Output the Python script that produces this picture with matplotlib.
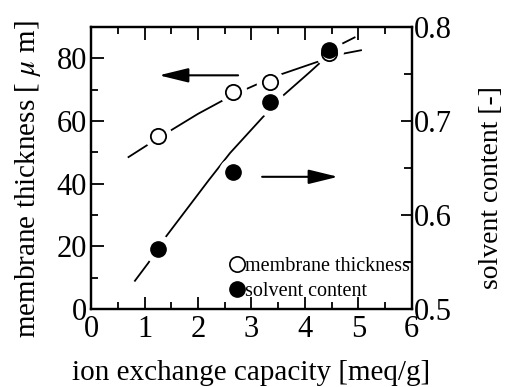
import matplotlib
matplotlib.use('Agg')
import matplotlib.pyplot as plt
from matplotlib.lines import Line2D
from matplotlib.ticker import MultipleLocator

plt.rcParams['font.family'] = ['Liberation Serif', 'DejaVu Serif']
plt.rcParams['mathtext.fontset'] = 'stix'

# measured points
iec = [1.25, 2.65, 3.35, 4.45]
thickness = [55.3, 69.3, 72.6, 81.6]
solvent = [0.564, 0.646, 0.720, 0.776]

# dashed guide curves
thick_curve_x = [0.7, 1.25, 2.0, 2.65, 3.35, 3.55, 4.2, 4.65, 5.05]
thick_curve_y = [48.5, 54.5, 62.3, 68.3, 73.6, 74.9, 78.7, 81.3, 82.6]
solv_curve_x = [0.82, 1.07, 1.4, 2.2, 2.6, 3.21, 3.57, 4.09, 4.65, 4.93]
solv_curve_y = [0.530, 0.549, 0.577, 0.637, 0.666, 0.704, 0.726, 0.752, 0.781, 0.789]

# arrows (x from, x to, y on left axis)
arrow_left = (2.75, 1.27, 74.6)
arrow_right = (3.2, 4.62, 42.2)

fig = plt.figure(figsize=(5.09, 3.87), dpi=100)
ax = fig.add_axes([0.179, 0.2016, 0.630, 0.7284])
ax2 = ax.twinx()

ax.set_xlim(0, 6)
ax.set_ylim(0, 90)
ax2.set_ylim(0.5, 0.8)

# everything drawn on ax2 so the white halos cut both curves
ax2.plot(thick_curve_x, thick_curve_y, color='black', lw=1.3, transform=ax.transData, zorder=1)
ax2.plot(solv_curve_x, solv_curve_y, color='black', lw=1.3, zorder=1)
ax2.plot(iec, thickness, 'o', ms=20, color='white', mec='none', transform=ax.transData, zorder=2)
ax2.plot(iec, solvent, 'o', ms=21, color='white', mec='none', zorder=2)
ax2.plot(iec, thickness, 'o', ms=11, mfc='white', mec='black', mew=1.3, transform=ax.transData, zorder=3)
ax2.plot(iec, solvent, 'o', ms=11, mfc='black', mec='black', zorder=4)

for x0, x1, y in [arrow_left, arrow_right]:
    ax2.annotate('', xy=(x1, y), xytext=(x0, y), xycoords=ax.transData, textcoords=ax.transData,
                 arrowprops=dict(arrowstyle='-|>,head_length=0.9,head_width=0.22', color='black',
                                 lw=1.5, mutation_scale=20, shrinkA=0, shrinkB=0))

ax.xaxis.set_major_locator(MultipleLocator(1))
ax.xaxis.set_minor_locator(MultipleLocator(0.5))
ax.yaxis.set_major_locator(MultipleLocator(20))
ax.yaxis.set_minor_locator(MultipleLocator(10))
ax2.yaxis.set_minor_locator(MultipleLocator(0.05))
ax2.set_yticks([0.5, 0.6, 0.7, 0.8])
ax2.set_yticklabels(['0.5', '0.6', '0.7', '0.8'])

ax.tick_params(axis='x', which='both', direction='in', top=True, labelsize=22, pad=4)
ax.tick_params(axis='y', which='both', direction='in', labelsize=22, pad=3)
ax2.tick_params(axis='y', which='both', direction='in', labelsize=22, pad=1.5)
ax.tick_params(which='major', length=9, width=1.3)
ax.tick_params(which='minor', length=5, width=1.3)
ax2.tick_params(which='major', length=8, width=1.3)
ax2.tick_params(which='minor', length=6, width=1.3)
for a in (ax, ax2):
    for s in a.spines.values():
        s.set_linewidth(1.6)

ax.set_xlabel('ion exchange capacity [meq/g]', fontsize=21)
ax.set_ylabel(r'membrane thickness [ $\mu$ m]', fontsize=21)
ax2.set_ylabel('solvent content [-]', fontsize=20)
ax.xaxis.set_label_coords(0.5, -0.182)
ax.yaxis.set_label_coords(-0.15, 0.46)
ax2.yaxis.set_label_coords(1.21, 0.43)

handles = [Line2D([], [], marker='o', ls='none', ms=11, mfc='white', mec='black', mew=1.2),
           Line2D([], [], marker='o', ls='none', ms=11, mfc='black', mec='black')]
ax2.legend(handles, ['membrane thickness', 'solvent content'], loc='upper left',
           bbox_to_anchor=(230 / 509, 1 - 257 / 387), bbox_transform=fig.transFigure,
           frameon=False, fontsize=14.5, handlelength=0.7, handletextpad=0.05,
           labelspacing=0.3, borderpad=0, borderaxespad=0)

fig.savefig('out.png', dpi=100)
